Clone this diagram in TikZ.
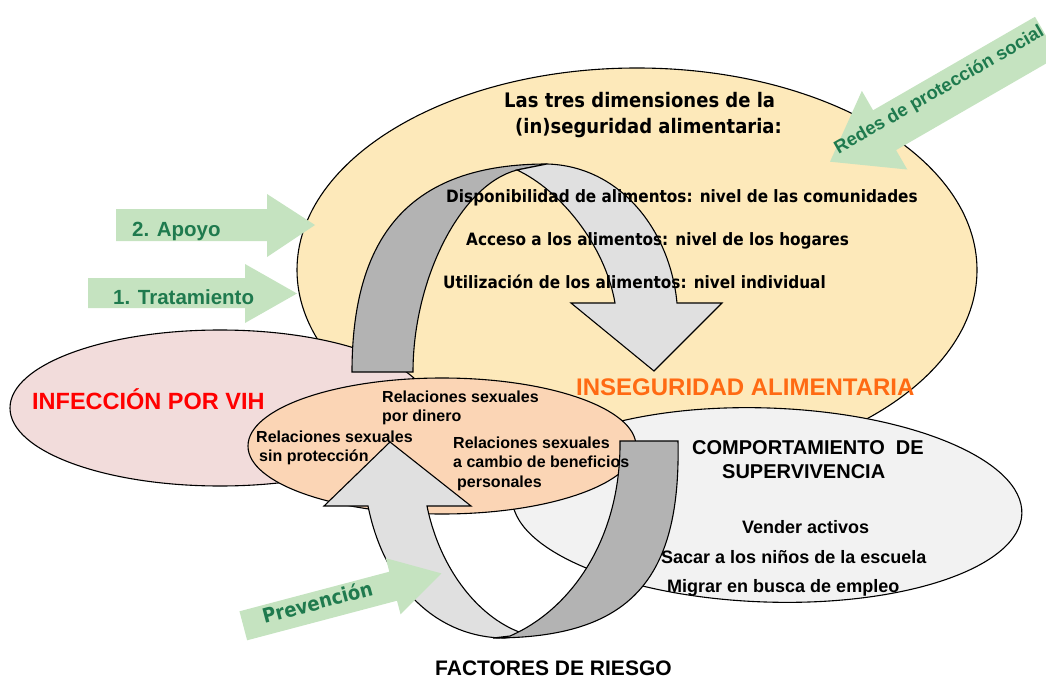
\documentclass[tikz,border=0pt]{standalone}
\usepackage{fontspec}
\setmainfont{Liberation Sans}
\newfontfamily\tah{DejaVu Sans Condensed}
\usetikzlibrary{shapes.geometric}
\newcommand\fsz[1]{\fontsize{#1}{#1}\selectfont}
\definecolor{yel}{HTML}{FDE9BA}
\definecolor{pnk}{HTML}{F2DCDB}
\definecolor{pch}{HTML}{FBD5B5}
\definecolor{lgr}{HTML}{F2F2F2}
\definecolor{dband}{HTML}{B3B3B3}
\definecolor{lband}{HTML}{E0E0E0}
\definecolor{garrow}{HTML}{C5E3C0}
\definecolor{gtext}{HTML}{1F7A4E}
\definecolor{otext}{HTML}{FF6A13}
\definecolor{rtext}{HTML}{FF0000}
\begin{document}
\begin{tikzpicture}[x=1pt,y=-1pt,
  shapeline/.style={draw=black, line width=1.1pt},
  blob/.style={ellipse, shapeline, inner sep=0pt},
  band/.style={draw=black, line width=1.1pt, line join=miter},
  greenfill/.style={fill=garrow, draw=none},
  txt/.style={inner sep=0pt, anchor=base west},
  tahT/.style={txt, font=\tah\fsz{20}\bfseries},
  tahS/.style={txt, font=\tah\fsz{17}\bfseries},
  arB/.style={txt, font=\fsz{20}\bfseries},
  arM/.style={txt, font=\fsz{18}\bfseries},
  arS/.style={txt, font=\fsz{16}\bfseries},
  gtxt/.style={txt, text=gtext, font=\fsz{20.5}\bfseries}
]
\useasboundingbox (0,0) rectangle (1046,679);
\clip (0,0) rectangle (1046,679);

% ellipses
\node[blob, fill=yel, minimum width=680pt, minimum height=404pt] (food) at (637,270) {};
\node[blob, fill=pnk, minimum width=420pt, minimum height=156pt] (hiv) at (220,408) {};
\node[blob, fill=lgr, minimum width=510pt, minimum height=194pt, rotate=-2] (surv) at (767,505) {};
\node[blob, fill=pch, minimum width=388pt, minimum height=136pt] (risk) at (442,446) {};

% top curved arrow
\filldraw[band, fill=dband] (352,372) -- (413,372) .. controls (413,280) and (460,185) .. (517,170)
  -- (547,164) .. controls (415,164) and (352,230) .. (352,372) -- cycle;
\filldraw[band, fill=lband] (517,170) .. controls (560,190) and (605,245) .. (615,303)
  -- (571,303) -- (654,371) -- (722,303) -- (677,303)
  .. controls (670,230) and (620,166) .. (547,164) -- cycle;

% bottom curved arrow
\filldraw[band, fill=lband] (427,506) .. controls (440,570) and (480,620) .. (525,634)
  -- (505,638) .. controls (440,638) and (385,590) .. (368,506)
  -- (324,506) -- (390,442) -- (471,506) -- cycle;
\filldraw[band, fill=dband] (493,638) .. controls (630,638) and (681,580) .. (678,441)
  -- (620,441) .. controls (621,540) and (570,610) .. (510,636) -- cycle;

% green arrows
\fill[greenfill] (116,209) -- (267,209) -- (267,194) -- (315,225) -- (267,257) -- (267,241) -- (116,241) -- cycle;
\fill[greenfill] (88,278) -- (245,278) -- (245,264) -- (297,293.5) -- (245,323) -- (245,308) -- (88,308) -- cycle;
\begin{scope}[shift={(243.3,625.8)}, rotate=14.8]
  \fill[greenfill] (0,-15) -- (155,-15) -- (155,-29) -- (205,0) -- (155,29) -- (155,15) -- (0,15) -- cycle;
  \node[txt, text=gtext, font=\tah\fsz{20}\bfseries, rotate=14.8] (prev) at (21,3.5) {Prevención};
\end{scope}
\begin{scope}[shift={(830,161.7)}, rotate=30]
  \fill[greenfill] (0,0) -- (63,-45.4) -- (63,-23) -- (250,-23) -- (250,23) -- (63,23) -- (63,45.4) -- cycle;
  \node[txt, text=gtext, font=\fsz{18.4}\bfseries, rotate=30] (redes) at (11,-2) {Redes de protección social};
\end{scope}
\node[gtxt] (apoyo) at (132,236.5) {2. Apoyo};
\node[gtxt] (trat) at (113,304) {1. Tratamiento};

% texts
\node[tahT] (dim1) at (504,108) {Las tres dimensiones de la};
\node[tahT] (dim2) at (515,134) {(in)seguridad alimentaria:};
\node[tahS] (disp) at (446,202) {Disponibilidad de alimentos: nivel de las comunidades};
\node[tahS] (acc) at (466,245) {Acceso a los alimentos: nivel de los hogares};
\node[tahS] (util) at (443,288) {Utilización de los alimentos: nivel individual};
\node[txt, text=otext, font=\fsz{24}\bfseries] (inseg) at (576,395) {INSEGURIDAD ALIMENTARIA};
\node[txt, text=rtext, font=\fsz{23.5}\bfseries] (vih) at (32,409) {INFECCIÓN POR VIH};
\node[arB] (comp1) at (692,454) {COMPORTAMIENTO\ \ DE};
\node[arB] (comp2) at (722,478) {SUPERVIVENCIA};
\node[arM] (c3) at (742,533) {Vender activos};
\node[arM] (c4) at (661,563) {Sacar a los niños de la escuela};
\node[arM] (c5) at (667,592) {Migrar en busca de empleo};
\node[txt, font=\fsz{21}\bfseries] (fr) at (435,675) {FACTORES DE RIESGO};
\node[arS] (r1a) at (382,402) {Relaciones sexuales};
\node[arS] (r1b) at (382,421) {por dinero};
\node[arS] (r2a) at (256,442) {Relaciones sexuales};
\node[arS] (r2b) at (259,461) {sin protección};
\node[arS] (r3a) at (453,448) {Relaciones sexuales};
\node[arS] (r3b) at (453,467) {a cambio de beneficios};
\node[arS] (r3c) at (457,487) {personales};
\end{tikzpicture}
\end{document}
